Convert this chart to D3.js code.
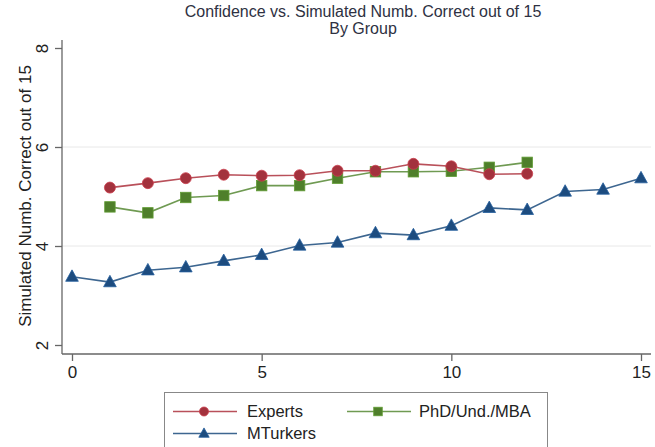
<!DOCTYPE html>
<html>
<head>
<meta charset="utf-8">
<script src="https://cdn.jsdelivr.net/npm/d3@7"></script>
<style>
  html, body { margin: 0; padding: 0; background: #fff; }
  svg { display: block; font-family: "Liberation Sans", Arial, sans-serif; }
</style>
</head>
<body>
<svg id="chart" width="655" height="447"></svg>
<script>
// Mean simulated number correct (out of 15) by confidence level, per group
const expertsX = [1, 2, 3, 4, 5, 6, 7, 8, 9, 10, 11, 12];
const expertsY = [5.18, 5.27, 5.37, 5.44, 5.42, 5.43, 5.52, 5.52, 5.66, 5.61, 5.45, 5.46];

const phdX = [1, 2, 3, 4, 5, 6, 7, 8, 9, 10, 11, 12];
const phdY = [4.79, 4.67, 4.98, 5.02, 5.22, 5.22, 5.37, 5.50, 5.50, 5.51, 5.59, 5.69];

const mturkX = [0, 1, 2, 3, 4, 5, 6, 7, 8, 9, 10, 11, 12, 13, 14, 15];
const mturkY = [3.38, 3.27, 3.51, 3.57, 3.70, 3.82, 4.01, 4.07, 4.26, 4.22, 4.41, 4.77, 4.73, 5.10, 5.14, 5.37];

const xTicks = [0, 5, 10, 15];
const yTicks = [2, 4, 6, 8];
const gridTicks = [4, 6];

const titleLines = ["Confidence vs. Simulated Numb. Correct out of 15", "By Group"];
const yLabel = "Simulated Numb. Correct out of 15";

const series = [
  { name: "Experts", xs: expertsX, ys: expertsY, shape: "circle", fill: "#a3323d", line: "#b9505a" },
  { name: "PhD/Und./MBA", xs: phdX, ys: phdY, shape: "square", fill: "#4f7f2b", line: "#6f9a52" },
  { name: "MTurkers", xs: mturkX, ys: mturkY, shape: "triangle", fill: "#1d4c7f", line: "#3d6690" }
];

const svg = d3.select("#chart");
const axisColor = "#666";
const textColor = "#222";

const x = d3.scaleLinear().domain([0, 15]).range([72, 641]);
const y = d3.scaleLinear().domain([2, 8]).range([345, 48]);
const plotLeft = 62, plotRight = 651, plotTop = 40, plotBottom = 354;

// Title (two lines)
svg.append("g").selectAll("text").data(titleLines).join("text")
  .attr("x", 363).attr("y", (d, i) => 16.5 + i * 17)
  .attr("text-anchor", "middle")
  .attr("font-size", i => 16)
  .attr("fill", "#2e3142")
  .text(d => d);

// Gridlines
svg.append("g").selectAll("line").data(gridTicks).join("line")
  .attr("x1", plotLeft).attr("x2", plotRight)
  .attr("y1", d => y(d)).attr("y2", d => y(d))
  .attr("stroke", "#e8e8e8").attr("stroke-width", 1);

// Y axis
const yAxis = svg.append("g").attr("transform", `translate(${plotLeft},0)`)
  .call(d3.axisLeft(y).tickValues(yTicks).tickSize(7).tickPadding(5).tickFormat(d3.format("d")));
yAxis.select(".domain").attr("d", `M0,${plotTop}V${plotBottom}`).attr("stroke", axisColor).attr("stroke-width", 1.3);
yAxis.selectAll(".tick line").attr("stroke", axisColor).attr("stroke-width", 1.3);
yAxis.selectAll(".tick text")
  .attr("font-size", 17).attr("fill", textColor)
  .attr("font-family", "Liberation Sans, Arial, sans-serif")
  .attr("transform", "translate(-20,0) rotate(-90)")
  .attr("x", 0).attr("dy", "0.35em").attr("text-anchor", "middle");

// X axis
const xAxis = svg.append("g").attr("transform", `translate(0,${plotBottom})`)
  .call(d3.axisBottom(x).tickValues(xTicks).tickSize(7).tickPadding(5).tickFormat(d3.format("d")));
xAxis.select(".domain").attr("d", `M${plotLeft},0H${plotRight}`).attr("stroke", axisColor).attr("stroke-width", 1.3);
xAxis.selectAll(".tick line").attr("stroke", axisColor).attr("stroke-width", 1.3);
xAxis.selectAll(".tick text")
  .attr("font-size", 17).attr("fill", textColor)
  .attr("font-family", "Liberation Sans, Arial, sans-serif");

// Y axis title
svg.append("text")
  .attr("transform", `translate(31,196) rotate(-90)`)
  .attr("text-anchor", "middle")
  .attr("font-size", 17)
  .attr("fill", textColor)
  .text(yLabel);

// Marker drawing
function drawMarker(g, shape, fill, size) {
  const edge = d3.color(fill).brighter(0.6);
  if (shape === "circle") {
    g.append("circle").attr("r", size * 0.5).attr("fill", fill).attr("stroke", edge).attr("stroke-width", 0.8);
  } else if (shape === "square") {
    const s = size * 0.95;
    g.append("rect").attr("x", -s / 2).attr("y", -s / 2).attr("width", s).attr("height", s)
      .attr("fill", fill).attr("stroke", edge).attr("stroke-width", 0.8);
  } else {
    const h = size * 1.0, w = size * 1.15;
    g.append("path").attr("d", `M0,${-h * 0.62}L${w / 2},${h * 0.42}L${-w / 2},${h * 0.42}Z`)
      .attr("fill", fill).attr("stroke", edge).attr("stroke-width", 0.8);
  }
}

const lineGen = d3.line().x(d => x(d[0])).y(d => y(d[1]));

// MTurkers first, then PhD, then Experts on top
[2, 1, 0].forEach(i => {
  const s = series[i];
  const pts = s.xs.map((v, j) => [v, s.ys[j]]);
  const g = svg.append("g");
  g.append("path").datum(pts).attr("d", lineGen)
    .attr("fill", "none").attr("stroke", s.line).attr("stroke-width", 1.6);
  g.selectAll("g.m").data(pts).join("g").attr("class", "m")
    .attr("transform", d => `translate(${x(d[0])},${y(d[1])})`)
    .each(function () { drawMarker(d3.select(this), s.shape, s.fill, 11); });
});

// Legend
const legend = svg.append("g");
legend.append("rect").attr("x", 164.5).attr("y", 392.5).attr("width", 383).attr("height", 60)
  .attr("fill", "#fff").attr("stroke", "#888").attr("stroke-width", 1);
const legendPos = [
  { lx: 173, mx: 204, tx: 247, y: 411.5 },
  { lx: 347, mx: 378, tx: 419, y: 411.5 },
  { lx: 173, mx: 204, tx: 247, y: 433.5 }
];
series.forEach((s, i) => {
  const p = legendPos[i];
  const g = legend.append("g");
  g.append("line").attr("x1", p.lx).attr("x2", p.lx + 64).attr("y1", p.y).attr("y2", p.y)
    .attr("stroke", s.line).attr("stroke-width", 1.6);
  const m = g.append("g").attr("transform", `translate(${p.mx},${p.y})`);
  drawMarker(m, s.shape, s.fill, 9);
  g.append("text").attr("x", p.tx).attr("y", p.y).attr("dy", "0.36em")
    .attr("font-size", 16.5).attr("fill", textColor).text(s.name);
});
</script>
</body>
</html>
